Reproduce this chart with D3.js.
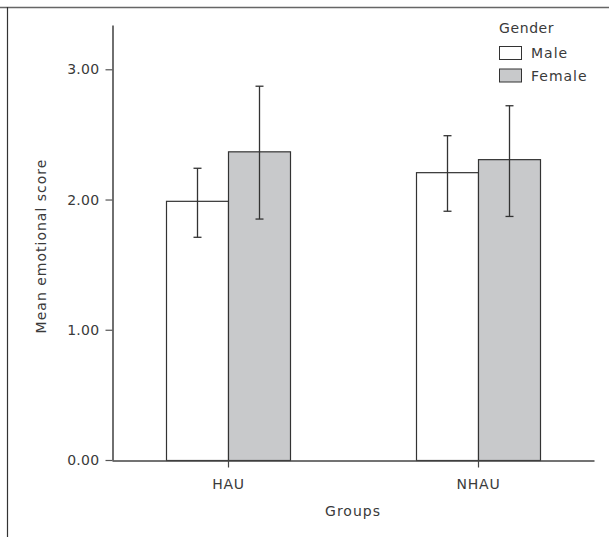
<!DOCTYPE html>
<html>
<head>
<meta charset="utf-8">
<script src="https://cdn.jsdelivr.net/npm/d3@7"></script>
<style>
  body { margin: 0; background: #fff; }
  text { font-family: "DejaVu Sans", sans-serif; fill: #3a3a3a; }
</style>
</head>
<body>
<svg id="chart" width="609" height="537"></svg>
<script>
// Data

const groups = ["HAU", "NHAU"];
const genders = ["Male", "Female"];
const means = [[1.99, 2.37], [2.21, 2.31]];
const errLow = [[1.71, 1.85], [1.91, 1.87]];
const errHigh = [[2.24, 2.87], [2.49, 2.72]];
const yTicks = [0, 1, 2, 3];

const fills = ["#ffffff", "#c8c9cb"];

// Layout

const margin = { top: 25, bottom: 77, left: 112, right: 15 };
const width = 609;
const height = 537;

const svg = d3.select("#chart");

// frame lines (top and left only)
svg.append("line").attr("x1", 0).attr("x2", width).attr("y1", 7.5).attr("y2", 7.5)
  .attr("stroke", "#666").attr("stroke-width", 1.5);
svg.append("line").attr("x1", 7.5).attr("x2", 7.5).attr("y1", 7).attr("y2", height)
  .attr("stroke", "#333").attr("stroke-width", 1.2);

const y = d3.scaleLinear()
  .domain([0, 3.34])
  .range([height - margin.bottom, margin.top]);

const x = d3.scalePoint()
  .domain(groups)
  .range([margin.left, width - margin.right])
  .padding(0.464);

const xSub = d3.scaleBand()
  .domain(genders)
  .range([-62, 62]);

// Bars

const rows = [];
groups.forEach((g, i) => {
  genders.forEach((s, j) => {
    rows.push({ group: g, gender: s, j: j, mean: means[i][j], lo: errLow[i][j], hi: errHigh[i][j] });
  });
});

const bars = svg.append("g");

bars.selectAll("rect")
  .data(rows)
  .enter()
  .append("rect")
  .attr("x", (d) => x(d.group) + xSub(d.gender) + 0.5)
  .attr("y", (d) => y(d.mean) + 0.5)
  .attr("width", xSub.bandwidth())
  .attr("height", (d) => y(0) - y(d.mean))
  .attr("fill", (d) => fills[d.j])
  .attr("stroke", "#333")
  .attr("stroke-width", 1.2);

// Error bars

const err = svg.append("g").attr("stroke", "#333").attr("stroke-width", 1.3);
const cx = (d) => Math.round(x(d.group) + xSub(d.gender) + xSub.bandwidth() / 2) + 0.5;

err.selectAll(".stem").data(rows).enter().append("line")
  .attr("x1", cx).attr("x2", cx)
  .attr("y1", (d) => y(d.lo)).attr("y2", (d) => y(d.hi));
err.selectAll(".capHi").data(rows).enter().append("line")
  .attr("x1", (d) => cx(d) - 4).attr("x2", (d) => cx(d) + 4)
  .attr("y1", (d) => y(d.hi)).attr("y2", (d) => y(d.hi));
err.selectAll(".capLo").data(rows).enter().append("line")
  .attr("x1", (d) => cx(d) - 4).attr("x2", (d) => cx(d) + 4)
  .attr("y1", (d) => y(d.lo)).attr("y2", (d) => y(d.lo));

// Y axis

const yAxis = svg.append("g")
  .attr("transform", "translate(" + (margin.left + 0.5) + ",0)")
  .call(d3.axisLeft(y).tickValues(yTicks).tickFormat(d3.format(".2f")).tickSize(7).tickPadding(6).tickSizeOuter(0));
yAxis.select(".domain").attr("stroke", "#222").attr("stroke-width", 1.3);
yAxis.selectAll(".tick line").attr("stroke", "#555").attr("stroke-width", 1.2);
yAxis.selectAll("text").attr("font-size", 14).attr("font-family", "DejaVu Sans").attr("fill", "#3a3a3a")
  .attr("letter-spacing", 0.3);

// X axis

const xAxis = svg.append("g")
  .attr("transform", "translate(0," + (y(0) + 0.5) + ")")
  .call(d3.axisBottom(x).tickSize(7).tickPadding(12).tickSizeOuter(0));
xAxis.select(".domain").attr("stroke", "#444").attr("stroke-width", 1.3);
xAxis.selectAll(".tick line").attr("stroke", "#444").attr("stroke-width", 1.2);
xAxis.selectAll("text").attr("font-size", 14).attr("font-family", "DejaVu Sans").attr("fill", "#3a3a3a")
  .attr("letter-spacing", 0.8);

// Axis titles

svg.append("text")
  .attr("x", (margin.left + width - margin.right) / 2)
  .attr("y", 516)
  .attr("text-anchor", "middle")
  .attr("font-size", 14)
  .attr("letter-spacing", 1)
  .text("Groups");

svg.append("text")
  .attr("transform", "translate(46,246) rotate(-90)")
  .attr("text-anchor", "middle")
  .attr("font-size", 14)
  .attr("letter-spacing", 1)
  .text("Mean emotional score");

// Legend

const legend = svg.append("g").attr("transform", "translate(499,0)");

legend.append("text")
  .attr("x", 0).attr("y", 33)
  .attr("font-size", 14)
  .attr("letter-spacing", 0.6)
  .text("Gender");

legend.selectAll("rect")
  .data(genders)
  .enter()
  .append("rect")
  .attr("x", 0.5)
  .attr("y", (d, i) => 46.5 + i * 22.5)
  .attr("width", 22)
  .attr("height", 13)
  .attr("fill", (d, i) => fills[i])
  .attr("stroke", "#333")
  .attr("stroke-width", 1);

legend.selectAll(".lab")
  .data(genders)
  .enter()
  .append("text")
  .attr("x", 32)
  .attr("y", (d, i) => 58 + i * 22.5)
  .attr("font-size", 14)
  .attr("letter-spacing", 1)
  .text((d) => d);
</script>
</body>
</html>
